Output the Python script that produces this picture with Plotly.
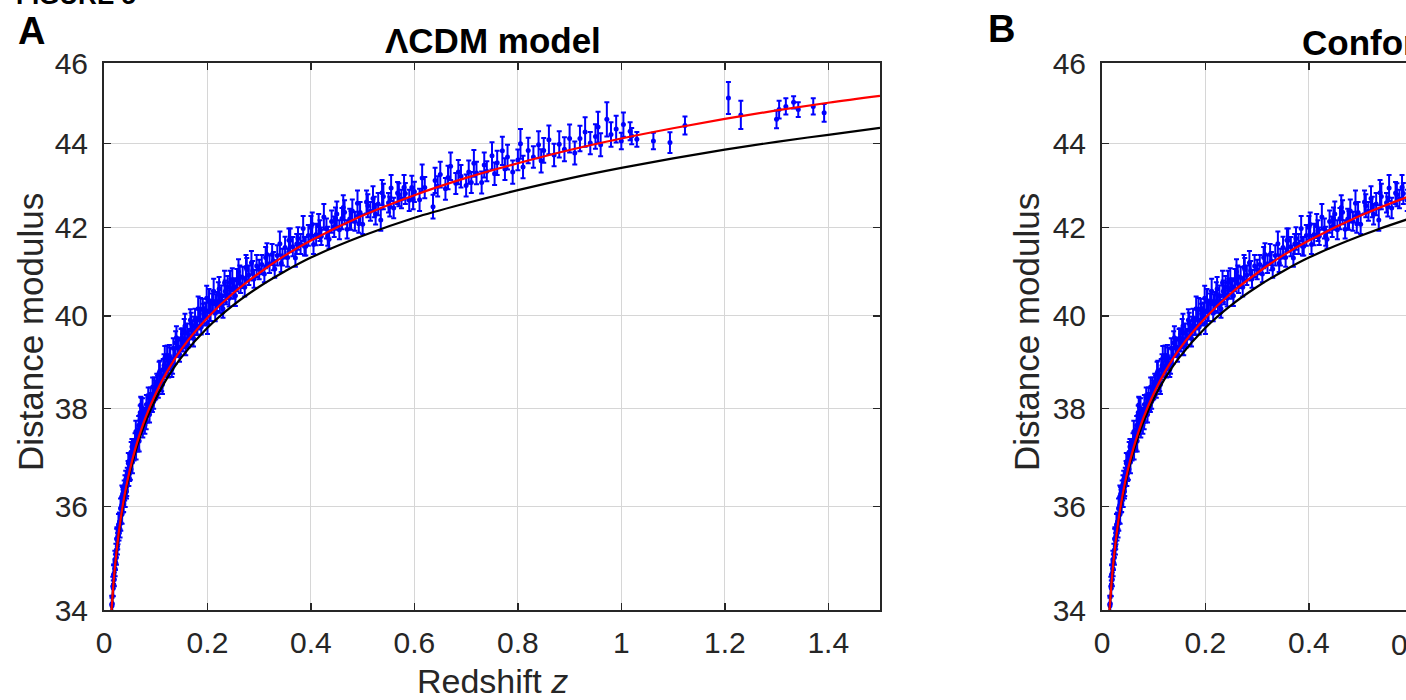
import math
import plotly.graph_objects as go

# ---------------- data ----------------
z_obs = [
    0.015, 0.016, 0.017, 0.018, 0.019, 0.020, 0.021, 0.022, 0.023, 0.024,
    0.025, 0.026, 0.027, 0.028, 0.029, 0.030, 0.031, 0.032, 0.033, 0.034,
    0.035, 0.036, 0.037, 0.038, 0.039, 0.040, 0.041, 0.042, 0.043, 0.044,
    0.045, 0.047, 0.048, 0.049, 0.050, 0.051, 0.052, 0.054, 0.055, 0.056,
    0.058, 0.060, 0.062, 0.063, 0.065, 0.067, 0.068, 0.070, 0.071, 0.072,
    0.073, 0.075, 0.077, 0.079, 0.080, 0.082, 0.084, 0.086, 0.088, 0.090,
    0.092, 0.094, 0.096, 0.098, 0.100,
    0.102, 0.105, 0.108, 0.110, 0.113, 0.116, 0.119, 0.122, 0.125, 0.128,
    0.131, 0.134, 0.137, 0.140, 0.143, 0.146, 0.149, 0.152, 0.155, 0.158,
    0.161, 0.164, 0.167, 0.170, 0.173, 0.176, 0.179, 0.182, 0.185, 0.188,
    0.191, 0.194, 0.197, 0.200, 0.203, 0.206, 0.209, 0.212, 0.215, 0.218,
    0.221, 0.224, 0.227, 0.230, 0.233, 0.236, 0.239, 0.242, 0.245, 0.248,
    0.251, 0.254, 0.257, 0.260, 0.264, 0.268, 0.272, 0.276, 0.280, 0.285,
    0.290, 0.295, 0.300,
    0.305, 0.310, 0.315, 0.320, 0.325, 0.330, 0.335, 0.340, 0.345, 0.350,
    0.355, 0.360, 0.365, 0.370, 0.375, 0.380, 0.385, 0.390, 0.395, 0.400,
    0.405, 0.410, 0.415, 0.420, 0.425, 0.430, 0.435, 0.440, 0.445, 0.450,
    0.455, 0.460, 0.465, 0.470, 0.475, 0.480, 0.485, 0.490, 0.495, 0.500,
    0.510, 0.515, 0.520, 0.525, 0.530, 0.535, 0.540, 0.550, 0.555, 0.560,
    0.570, 0.575, 0.580, 0.590, 0.595, 0.600, 0.610, 0.615, 0.620, 0.636,
    0.640, 0.645, 0.650, 0.660, 0.665, 0.670, 0.680, 0.685, 0.690, 0.700,
    0.705, 0.710, 0.715, 0.720, 0.730, 0.735, 0.740, 0.750, 0.755, 0.760,
    0.770, 0.775, 0.780, 0.790, 0.800, 0.805, 0.810, 0.820, 0.830, 0.840,
    0.845, 0.850, 0.860, 0.870, 0.880, 0.890, 0.900, 0.910, 0.920, 0.930,
    0.940, 0.950, 0.955, 0.960, 0.972, 0.980, 0.990,
    1.000, 1.004, 1.017, 1.020, 1.030, 1.062, 1.094, 1.123, 1.207, 1.231,
    1.300, 1.305, 1.318, 1.333, 1.342, 1.371, 1.392,
    0.0155, 0.0185, 0.0215, 0.0245, 0.0265, 0.0295, 0.0325, 0.0345, 0.0375, 0.0405,
    0.0435, 0.0465, 0.0495, 0.0525, 0.0575, 0.0615, 0.0655, 0.0695, 0.0745, 0.0785,
    0.0815, 0.0855, 0.0895, 0.0935, 0.0975,
    0.1035, 0.1065, 0.1115, 0.1145, 0.1175, 0.1235, 0.1265, 0.1325, 0.1385, 0.1445,
    0.1505, 0.1565, 0.1625, 0.1685, 0.1745, 0.1805, 0.1865, 0.1925, 0.1985, 0.2045,
    0.2105, 0.2165, 0.2225, 0.2285, 0.2345, 0.2435, 0.2525, 0.2625, 0.2745, 0.2875,
    0.3125, 0.3275, 0.3425, 0.3575, 0.3725, 0.3875, 0.4025, 0.4175, 0.4325, 0.4475,
    0.4625, 0.4775, 0.4925, 0.5075, 0.5225, 0.5375, 0.5525, 0.5675, 0.5825, 0.5975,
]
mu_obs = [
    34.11, 34.12, 34.45, 34.41, 34.67, 34.58, 34.96, 34.91, 35.08, 35.00,
    35.37, 35.22, 35.41, 35.64, 35.47, 35.70, 35.55, 35.96, 35.83, 36.01,
    35.85, 36.25, 36.11, 36.05, 36.34, 36.27, 36.19, 36.55, 36.48, 36.40,
    36.62, 36.87, 36.56, 36.75, 36.92, 36.74, 36.92, 37.21, 36.89, 37.13,
    37.11, 37.35, 37.14, 37.38, 37.35, 37.65, 37.33, 37.92, 38.08, 38.04,
    37.70, 37.61, 37.87, 37.66, 37.86, 38.09, 37.86, 38.08, 37.88, 38.26,
    38.15, 38.46, 38.15, 38.39, 38.37,
    38.56, 38.38, 38.80, 38.62, 38.51, 38.92, 38.85, 39.14, 38.85, 39.08,
    38.84, 39.29, 39.13, 39.52, 39.32, 39.16, 39.48, 39.41, 39.67, 39.32,
    39.62, 39.54, 39.91, 39.69, 39.51, 39.91, 39.78, 40.16, 39.92, 39.76,
    40.15, 39.99, 40.12, 39.84, 40.34, 40.08, 40.28, 40.55, 40.06, 40.32,
    40.50, 40.26, 40.45, 40.16, 40.74, 40.47, 40.65, 40.39, 40.61, 40.81,
    40.58, 40.45, 40.80, 40.99, 40.70, 40.86, 40.64, 41.04, 40.91, 41.19,
    40.83, 41.12, 41.04,
    41.15, 40.94, 41.38, 41.17, 41.38, 41.05, 41.36, 41.63, 41.32, 41.54,
    41.31, 41.71, 41.56, 41.30, 41.75, 41.62, 41.98, 41.57, 41.82, 42.00,
    41.61, 41.84, 42.04, 41.80, 42.25, 41.98, 41.73, 42.14, 42.02, 42.32,
    41.95, 42.21, 42.36, 41.96, 42.20, 42.39, 42.15, 42.57, 42.35, 42.08,
    42.51, 42.38, 42.68, 42.31, 42.55, 42.18, 42.73, 42.58, 42.93, 42.46,
    42.77, 42.67, 42.95, 42.64, 42.94, 42.84, 42.65, 43.17, 42.94, 42.49,
    43.11, 42.97, 43.25, 42.91, 43.18, 43.45, 43.04, 43.31, 43.21, 42.99,
    43.31, 43.06, 43.52, 43.29, 43.06, 43.48, 43.33, 43.70, 43.27, 43.53,
    43.82, 43.38, 43.67, 43.31, 43.60, 43.99, 43.43, 43.83, 43.67, 43.97,
    43.58, 43.83, 44.09, 43.72, 43.98, 43.86, 44.12, 43.77, 44.12, 44.28,
    44.01, 44.17, 44.40, 43.97, 44.59, 44.22, 44.35,
    44.06, 44.46, 44.30, 44.18, 44.10, 44.06, 44.02, 44.44, 45.12, 44.70,
    44.59, 44.83, 44.91, 45.01, 44.83, 44.91, 44.75,
    34.08, 34.67, 34.78, 35.36, 35.32, 35.67, 35.67, 36.20, 36.17, 36.45,
    36.30, 36.72, 36.67, 37.10, 37.15, 37.52, 37.30, 37.68, 38.00, 37.82,
    37.75, 38.24, 38.15, 38.08, 38.46,
    38.50, 38.76, 38.55, 38.84, 39.08, 38.87, 39.13, 38.91, 39.41, 39.31,
    39.51, 39.78, 39.48, 39.83, 39.78, 39.77, 40.14, 40.05, 40.39, 40.09,
    40.33, 40.27, 40.60, 40.24, 40.55, 40.75, 40.64, 40.88, 41.09, 41.01,
    41.31, 41.23, 41.18, 41.71, 41.62, 41.57, 42.07, 41.93, 41.80, 42.21,
    42.47, 42.17, 42.09, 42.60, 42.48, 42.82, 42.49, 42.81, 42.80, 42.65,
]
err_obs = [
    0.16, 0.14, 0.18, 0.15, 0.20, 0.13, 0.17, 0.15, 0.19, 0.14,
    0.22, 0.16, 0.15, 0.21, 0.14, 0.18, 0.16, 0.20, 0.15, 0.17,
    0.19, 0.14, 0.23, 0.16, 0.18, 0.15, 0.20, 0.17, 0.14, 0.19,
    0.16, 0.21, 0.15, 0.18, 0.14, 0.20, 0.17, 0.16, 0.22, 0.15,
    0.18, 0.14, 0.19, 0.16, 0.24, 0.20, 0.22, 0.15, 0.17, 0.19,
    0.16, 0.21, 0.14, 0.18, 0.16, 0.20, 0.15, 0.22, 0.17, 0.19,
    0.18, 0.20, 0.15, 0.21, 0.17,
    0.18, 0.15, 0.22, 0.17, 0.20, 0.24, 0.16, 0.21, 0.19, 0.23,
    0.17, 0.22, 0.18, 0.25, 0.20, 0.16, 0.23, 0.19, 0.26, 0.18,
    0.21, 0.17, 0.24, 0.20, 0.18, 0.25, 0.19, 0.27, 0.22, 0.17,
    0.23, 0.20, 0.18, 0.24, 0.26, 0.19, 0.22, 0.28, 0.18, 0.21,
    0.25, 0.19, 0.23, 0.20, 0.27, 0.21, 0.24, 0.18, 0.22, 0.26,
    0.20, 0.23, 0.25, 0.28, 0.19, 0.24, 0.21, 0.26, 0.22, 0.27,
    0.20, 0.25, 0.22,
    0.22, 0.19, 0.26, 0.21, 0.24, 0.20, 0.23, 0.28, 0.19, 0.25,
    0.21, 0.27, 0.22, 0.20, 0.26, 0.23, 0.29, 0.21, 0.24, 0.27,
    0.22, 0.25, 0.28, 0.20, 0.30, 0.23, 0.21, 0.26, 0.24, 0.29,
    0.22, 0.25, 0.28, 0.21, 0.24, 0.27, 0.22, 0.30, 0.25, 0.23,
    0.27, 0.22, 0.29, 0.24, 0.26, 0.25, 0.30, 0.23, 0.31, 0.24,
    0.27, 0.22, 0.29, 0.25, 0.28, 0.24, 0.26, 0.32, 0.25, 0.28,
    0.30, 0.24, 0.31, 0.26, 0.28, 0.33, 0.25, 0.29, 0.27, 0.26,
    0.28, 0.25, 0.32, 0.27, 0.26, 0.30, 0.24, 0.33, 0.27, 0.29,
    0.34, 0.26, 0.30, 0.28, 0.25, 0.36, 0.27, 0.31, 0.26, 0.33,
    0.28, 0.30, 0.35, 0.27, 0.32, 0.29, 0.34, 0.28, 0.31, 0.36,
    0.27, 0.30, 0.38, 0.28, 0.42, 0.30, 0.33,
    0.20, 0.30, 0.22, 0.20, 0.18, 0.20, 0.25, 0.22, 0.40, 0.35,
    0.22, 0.22, 0.20, 0.15, 0.18, 0.20, 0.22,
    0.15, 0.18, 0.14, 0.20, 0.16, 0.19, 0.15, 0.22, 0.17, 0.18,
    0.14, 0.20, 0.16, 0.21, 0.17, 0.23, 0.15, 0.19, 0.22, 0.16,
    0.18, 0.21, 0.17, 0.15, 0.20,
    0.20, 0.24, 0.18, 0.22, 0.26, 0.19, 0.23, 0.17, 0.25, 0.21,
    0.22, 0.27, 0.18, 0.24, 0.20, 0.19, 0.26, 0.22, 0.28, 0.20,
    0.23, 0.21, 0.27, 0.18, 0.24, 0.26, 0.20, 0.25, 0.28, 0.22,
    0.24, 0.21, 0.20, 0.27, 0.23, 0.21, 0.28, 0.24, 0.22, 0.26,
    0.29, 0.22, 0.21, 0.27, 0.24, 0.30, 0.23, 0.26, 0.25, 0.22,
]

# model curves
z_curve = [0.014, 0.02, 0.03, 0.04, 0.05, 0.06, 0.07, 0.08, 0.10, 0.12,
           0.15, 0.20, 0.25, 0.30, 0.35, 0.40, 0.50, 0.60, 0.70, 0.80,
           0.90, 1.00, 1.10, 1.20, 1.30, 1.40, 1.50]
mu_red_A = [33.91, 34.70, 35.60, 36.24, 36.74, 37.15, 37.50, 37.81, 38.32, 38.75,
            39.28, 39.96, 40.51, 40.96, 41.36, 41.70, 42.28, 42.76, 43.17, 43.52,
            43.84, 44.12, 44.37, 44.60, 44.81, 45.00, 45.17]
mu_black_A = [33.89, 34.67, 35.56, 36.19, 36.68, 37.08, 37.42, 37.72, 38.21, 38.61,
              39.10, 39.74, 40.24, 40.65, 41.00, 41.31, 41.81, 42.23, 42.57, 42.88,
              43.16, 43.41, 43.64, 43.85, 44.04, 44.21, 44.38]
mu_red_B = [33.91, 34.70, 35.60, 36.24, 36.74, 37.15, 37.50, 37.81, 38.32, 38.75,
            39.28, 39.96, 40.51, 40.96, 41.36, 41.70, 42.28, 42.76, 43.17, 43.52,
            43.84, 44.12, 44.37, 44.60, 44.81, 45.00, 45.17]
mu_black_B = [33.89, 34.67, 35.56, 36.19, 36.68, 37.08, 37.42, 37.72, 38.21, 38.61,
              39.10, 39.74, 40.24, 40.65, 41.00, 41.31, 41.81, 42.23, 42.57, 42.88,
              43.16, 43.41, 43.64, 43.85, 44.04, 44.21, 44.38]

x_ticks = [0, 0.2, 0.4, 0.6, 0.8, 1.0, 1.2, 1.4]
x_tick_text = ["0", "0.2", "0.4", "0.6", "0.8", "1", "1.2", "1.4"]
y_ticks = [34, 36, 38, 40, 42, 44, 46]
y_tick_text = ["34", "36", "38", "40", "42", "44", "46"]

title_A = "ΛCDM model"
title_B = "Conformal gravity"
x_title = "Redshift <i>z</i>"
y_title = "Distance modulus"

# ---------------- layout geometry (pixels) ----------------
W, H = 1406, 700
def px(x):
    return x / W
def py(y):
    return 1 - y / H

FONT = "Liberation Sans, Arial, Helvetica, sans-serif"
INK = "#262626"

fig = go.Figure()

for xa, ya, red, black in (("x", "y", mu_red_A, mu_black_A),
                           ("x2", "y2", mu_red_B, mu_black_B)):
    fig.add_trace(go.Scatter(
        x=z_obs, y=mu_obs, xaxis=xa, yaxis=ya, mode="markers",
        marker=dict(color="#0000ff", size=5),
        error_y=dict(type="data", array=err_obs, color="#0000ff",
                     thickness=2, width=2.5),
        showlegend=False, hoverinfo="skip"))
    fig.add_trace(go.Scatter(
        x=z_curve, y=black, xaxis=xa, yaxis=ya, mode="lines",
        line=dict(color="#000000", width=2.2, shape="spline"),
        showlegend=False, hoverinfo="skip"))
    fig.add_trace(go.Scatter(
        x=z_curve, y=red, xaxis=xa, yaxis=ya, mode="lines",
        line=dict(color="#ff0000", width=2.2, shape="spline"),
        showlegend=False, hoverinfo="skip"))

axis_common = dict(
    showline=True, linecolor=INK, linewidth=2,
    ticks="inside", ticklen=7, tickwidth=1.5, tickcolor=INK,
    showgrid=True, gridcolor="#d6d6d6", gridwidth=1, zeroline=False,
    tickfont=dict(family=FONT, size=30, color=INK), automargin=False,
)
y_dom = [py(610), py(63)]
yrange = [math.log10(34), math.log10(46)]

fig.update_layout(
    width=W, height=H,
    margin=dict(l=0, r=0, t=0, b=0),
    paper_bgcolor="white", plot_bgcolor="white",
    hovermode=False,
    xaxis=dict(axis_common, domain=[px(104), px(880)], range=[0, 1.5],
               tickvals=x_ticks, ticktext=x_tick_text, mirror="allticks",
               anchor="y", ticklabelstandoff=5),
    yaxis=dict(axis_common, domain=y_dom, type="log", range=yrange,
               tickvals=y_ticks, ticktext=y_tick_text, mirror="allticks",
               anchor="x", ticklabelstandoff=8),
    xaxis2=dict(axis_common, domain=[px(1102), 1.0], range=[0, (1406 - 1102) / 517.3],
                tickvals=x_ticks, ticktext=x_tick_text, mirror="allticks",
                anchor="y2", ticklabelstandoff=5),
    yaxis2=dict(axis_common, domain=y_dom, type="log", range=yrange,
                tickvals=y_ticks, ticktext=y_tick_text, mirror=False,
                anchor="x2", ticklabelstandoff=8),
)

ann = []
def add_text(text, x, y, size, bold=False, xanchor="center", yanchor="middle", angle=0):
    ann.append(dict(text=f"<b>{text}</b>" if bold else text, x=x, y=y,
                    xref="paper", yref="paper", xanchor=xanchor, yanchor=yanchor,
                    showarrow=False, textangle=angle,
                    font=dict(family=FONT, size=size, color="#000000" if bold else INK)))

add_text("FIGURE 5", px(14), py(12), 26, bold=True, xanchor="left", yanchor="bottom")
add_text("A", px(31), py(31), 38, bold=True)
add_text("B", px(1001), py(29), 38, bold=True)
add_text(title_A, px(493), py(40), 35, bold=True)
add_text(title_B, px(1300), py(42), 35, bold=True, xanchor="left")
add_text(y_title, px(30), py(332), 35, angle=-90)
add_text(y_title, px(1026), py(332), 35, angle=-90)
add_text(x_title, px(492), py(681), 34)
add_text("0.6", px(1412), py(644), 30)
fig.update_layout(annotations=ann)

# the page body has a default 8px margin; remove it so the figure sits at (0, 0)
fig.write_html("out.html", config={"displayModeBar": False, "staticPlot": True},
               post_script="document.body.style.margin='0px';")
